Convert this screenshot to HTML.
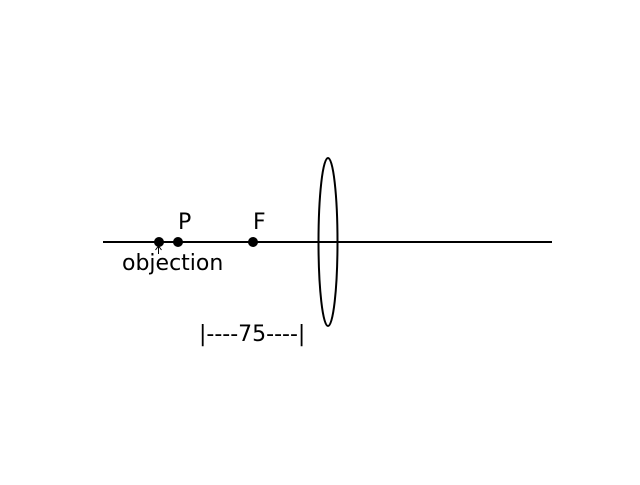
<!DOCTYPE html>
<html><head><meta charset="utf-8"><style>
html,body{margin:0;padding:0;background:#fff;}
svg text{font-family:"DejaVu Sans","Liberation Sans",sans-serif;font-size:22px;fill:#000;}
</style></head><body>
<svg width="640" height="480" xmlns="http://www.w3.org/2000/svg">
<line x1="103" y1="242" x2="552" y2="242" stroke="#000" stroke-width="2"/>
<ellipse cx="328" cy="242" rx="9.5" ry="84" fill="none" stroke="#000" stroke-width="2"/>
<g id="pts"></g>
<path d="M158.5 254 L158.5 246 M155.5 250 L158.5 246 L161.5 250" stroke="#000" stroke-width="1" fill="none"/>
<text x="122" y="270" font-size="22">objection</text>
<text x="199" y="341" font-size="22">|----75----|</text>
</svg>
<script>
const pointNames = ["object", "P", "F"];
const pointPositions = [-169, -150, -75];
const pointLabels = ["", "P", "F"];
const lensX = 328, axisY = 242;
function sx(v){ return lensX + v; }
const g = document.getElementById('pts');
const ns = "http://www.w3.org/2000/svg";
pointPositions.forEach((p, i) => {
  const c = document.createElementNS(ns, 'circle');
  c.setAttribute('cx', sx(p)); c.setAttribute('cy', axisY); c.setAttribute('r', 5);
  c.setAttribute('fill', '#000');
  
  
  g.appendChild(c);
  if (pointLabels[i]) {
    const t = document.createElementNS(ns, 'text');
    t.setAttribute('x', sx(p)); t.setAttribute('y', 229);
    t.setAttribute('font-size', '22');
    t.textContent = pointLabels[i];
    
    
    g.appendChild(t);
  }
});
</script>
</body></html>
